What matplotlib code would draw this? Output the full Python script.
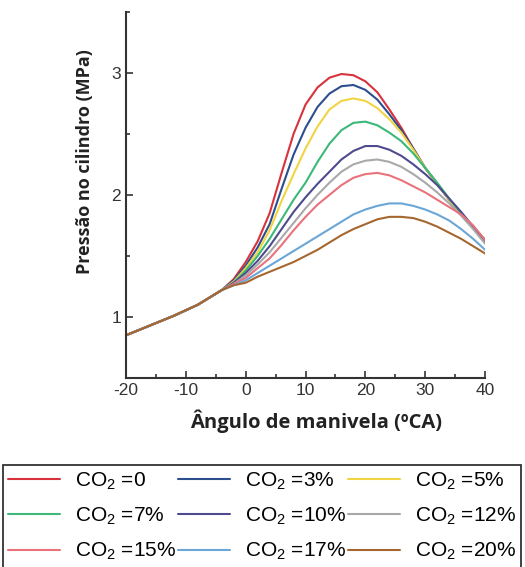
import numpy as np
import matplotlib
matplotlib.use("Agg")
import matplotlib.pyplot as plt
from matplotlib.ticker import MultipleLocator

plt.rcParams['font.family'] = ['Liberation Sans', 'DejaVu Sans']
plt.rcParams['mathtext.fontset'] = 'custom'
plt.rcParams['mathtext.rm'] = 'Liberation Sans'
plt.rcParams['mathtext.it'] = 'Liberation Sans'
plt.rcParams['axes.unicode_minus'] = False

# crank angle (deg CA)
angle = [-20, -18, -16, -14, -12, -10, -8, -6, -4, -2, 0, 2, 4, 6, 8, 10,
         12, 14, 16, 18, 20, 22, 24, 26, 28, 30, 32, 34, 36, 38, 40]

# compression part, same for every mixture (-20 .. -4)
compression = [0.85, 0.89, 0.93, 0.97, 1.01, 1.055, 1.10, 1.16, 1.22]

# cylinder pressure (MPa) from -2 deg onwards
p_co2_0 = [1.31, 1.45, 1.62, 1.85, 2.18, 2.50, 2.74, 2.88, 2.96, 2.99, 2.98,
           2.93, 2.84, 2.70, 2.55, 2.38, 2.22, 2.09, 1.96, 1.84, 1.73, 1.63]
p_co2_3 = [1.30, 1.42, 1.57, 1.76, 2.05, 2.33, 2.55, 2.72, 2.83, 2.89, 2.90,
           2.86, 2.78, 2.66, 2.53, 2.38, 2.22, 2.09, 1.96, 1.84, 1.73, 1.63]
p_co2_5 = [1.29, 1.40, 1.53, 1.71, 1.95, 2.17, 2.38, 2.56, 2.70, 2.77, 2.79,
           2.77, 2.71, 2.62, 2.51, 2.37, 2.22, 2.09, 1.96, 1.84, 1.73, 1.63]
p_co2_7 = [1.28, 1.38, 1.50, 1.64, 1.80, 1.96, 2.10, 2.27, 2.42, 2.53, 2.59,
           2.60, 2.57, 2.51, 2.44, 2.34, 2.22, 2.10, 1.97, 1.85, 1.74, 1.63]
p_co2_10 = [1.28, 1.36, 1.46, 1.58, 1.72, 1.86, 1.98, 2.09, 2.19, 2.29, 2.36,
            2.40, 2.40, 2.37, 2.32, 2.25, 2.17, 2.08, 1.97, 1.86, 1.74, 1.62]
p_co2_12 = [1.27, 1.34, 1.43, 1.53, 1.65, 1.77, 1.89, 2.00, 2.10, 2.19, 2.25,
            2.28, 2.29, 2.27, 2.23, 2.17, 2.10, 2.02, 1.93, 1.83, 1.72, 1.60]
p_co2_15 = [1.27, 1.32, 1.40, 1.48, 1.59, 1.71, 1.82, 1.92, 2.00, 2.08, 2.14,
            2.17, 2.18, 2.16, 2.12, 2.07, 2.02, 1.96, 1.90, 1.84, 1.75, 1.63]
p_co2_17 = [1.26, 1.30, 1.36, 1.42, 1.48, 1.54, 1.60, 1.66, 1.72, 1.78, 1.84,
            1.88, 1.91, 1.93, 1.93, 1.91, 1.88, 1.84, 1.79, 1.72, 1.64, 1.55]
p_co2_20 = [1.26, 1.28, 1.33, 1.37, 1.41, 1.45, 1.50, 1.55, 1.61, 1.67, 1.72,
            1.76, 1.80, 1.82, 1.82, 1.81, 1.78, 1.74, 1.69, 1.64, 1.58, 1.52]

labels = ['CO$_2$ =0', 'CO$_2$ =3%', 'CO$_2$ =5%',
          'CO$_2$ =7%', 'CO$_2$ =10%', 'CO$_2$ =12%',
          'CO$_2$ =15%', 'CO$_2$ =17%', 'CO$_2$ =20%']
series = [p_co2_0, p_co2_3, p_co2_5, p_co2_7, p_co2_10, p_co2_12,
          p_co2_15, p_co2_17, p_co2_20]
colors = ['#d8323c', '#2d4e8e', '#f2d443', '#3cb878', '#4e4a8e',
          '#a9a9a9', '#e9727c', '#6aa6d6', '#a5672f']

fig = plt.figure(figsize=(5.25, 5.67), dpi=100)
ax = fig.add_axes([0.24, 0.3333, 0.684, 0.646])

lines = []
for p, c, lab in zip(series, colors, labels):
    ln, = ax.plot(angle, compression + p, color=c, lw=1.5, label=lab,
                  solid_capstyle='round', solid_joinstyle='round')
    lines.append(ln)

ax.set_xlim(-20, 40)
ax.set_ylim(0.5, 3.5)
ax.xaxis.set_major_locator(MultipleLocator(10))
ax.xaxis.set_minor_locator(MultipleLocator(5))
ax.yaxis.set_major_locator(MultipleLocator(1))
ax.yaxis.set_minor_locator(MultipleLocator(0.5))
ax.tick_params(which='both', direction='in', colors='#333333',
               labelsize=12.5, width=1.2)
ax.tick_params(which='major', length=5)
ax.tick_params(which='minor', length=3)
for side in ['top', 'right']:
    ax.spines[side].set_visible(False)
for side in ['left', 'bottom']:
    ax.spines[side].set_color('#333333')
    ax.spines[side].set_linewidth(1.5)

ax.set_ylabel('Pressão no cilindro (MPa)', family='Open Sans',
              fontweight='bold', fontsize=13, color='#222222')
ax.yaxis.set_label_coords(-0.09, 0.59)
ax.set_xlabel('Ângulo de manivela (ºCA)', family='Open Sans',
              fontweight='bold', fontsize=14.5, color='#222222', va='top')
ax.xaxis.set_label_coords(0.53, -0.086)

# legend laid out row by row (matplotlib fills columns first)
order = [0, 3, 6, 1, 4, 7, 2, 5, 8]
leg = fig.legend([lines[i] for i in order], [labels[i] for i in order],
                 loc='upper left', bbox_to_anchor=(3 / 525, 1 - 465 / 567),
                 ncol=3, fontsize=15, frameon=True, fancybox=False,
                 edgecolor='black', handlelength=2.5, handletextpad=0.7,
                 columnspacing=0.1, labelspacing=0.68, borderpad=0.25,
                 borderaxespad=0)
leg.get_frame().set_linewidth(1.3)

fig.savefig('out.png', dpi=100)
